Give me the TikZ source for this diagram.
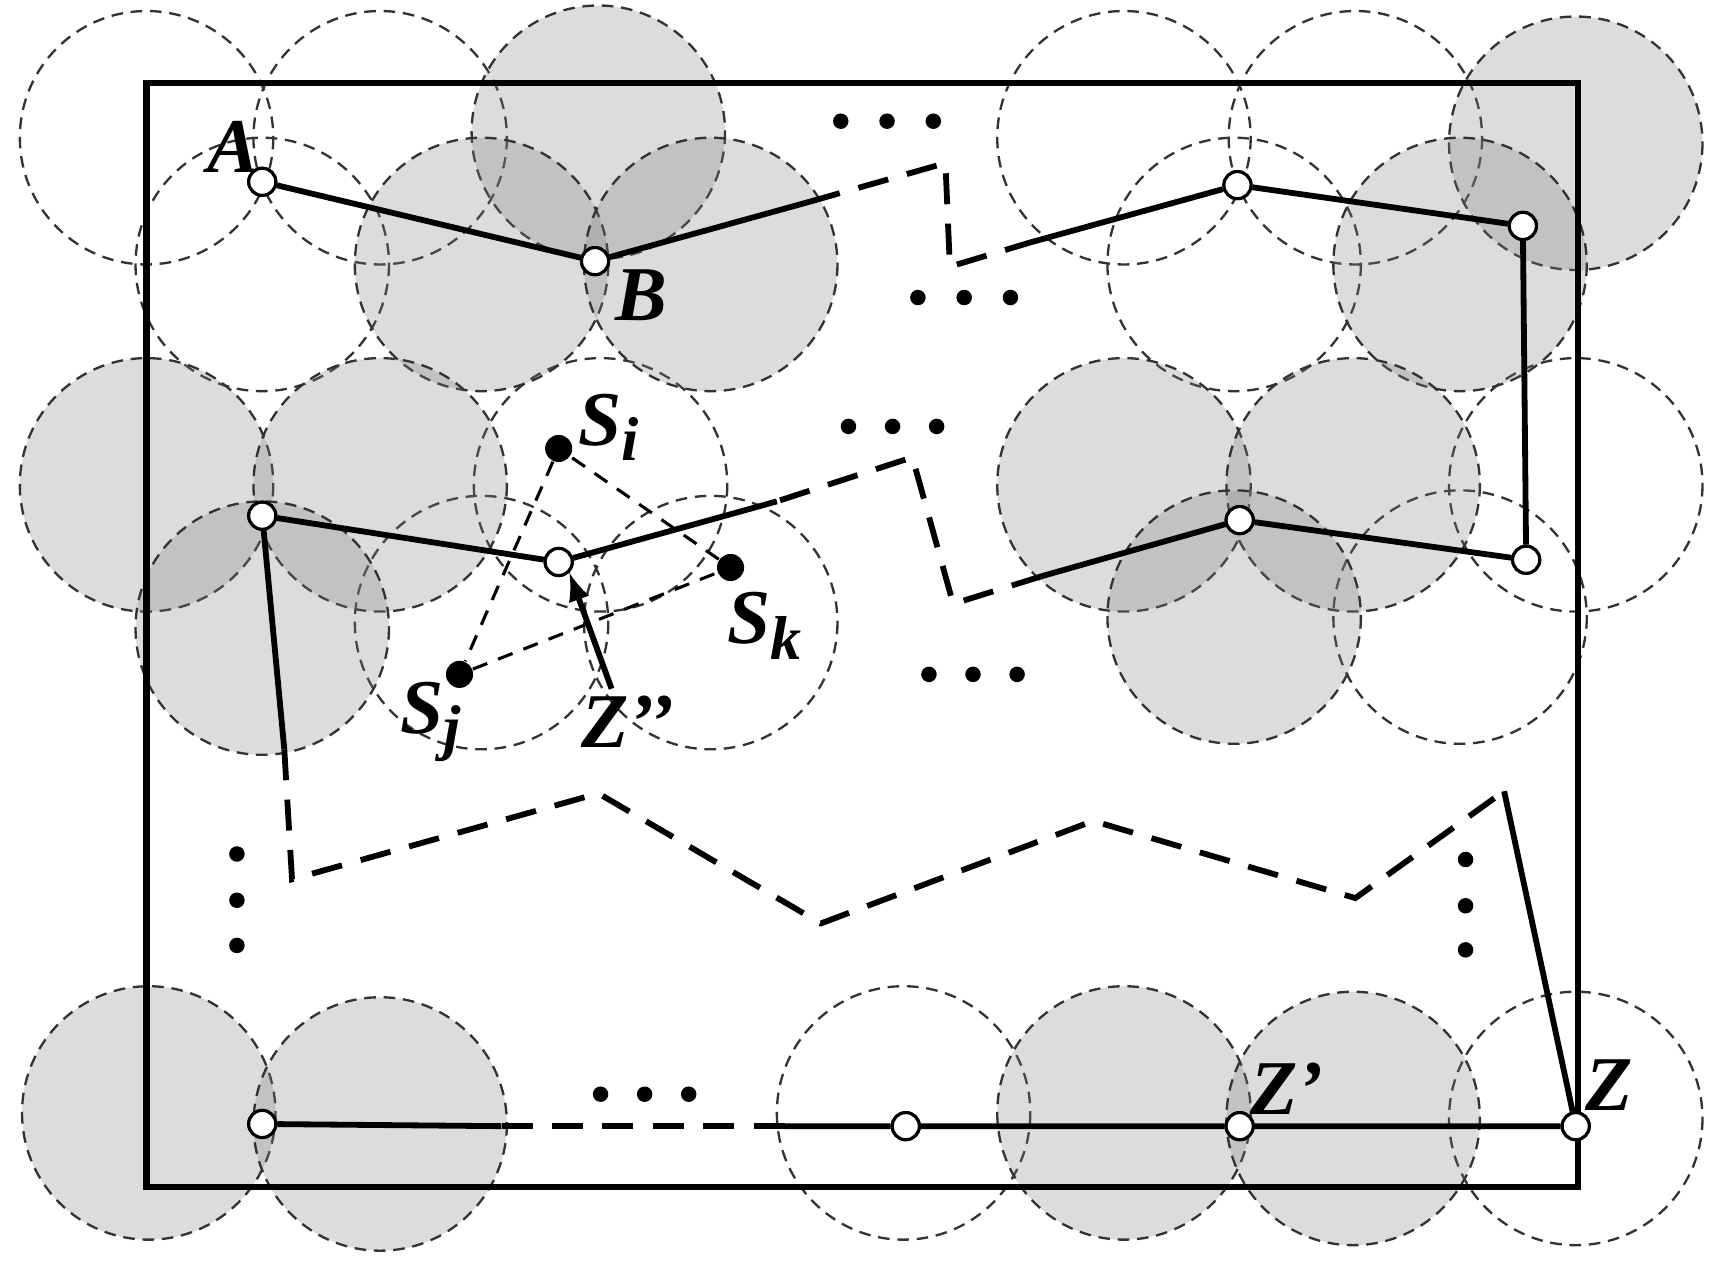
\documentclass[tikz,border=0pt]{standalone}
\usepackage{fontspec}
\setmainfont{Liberation Serif}
\begin{document}
\begin{tikzpicture}[x=0.01cm,y=-0.01cm,
 sc/.style={draw=black!80,dashed,line width=0.6pt,dash pattern=on 3pt off 2pt},
 sh/.style={sc,fill=gray,fill opacity=0.28},
 pth/.style={line width=1.5pt},
 dpth/.style={line width=1.5pt,dash pattern=on 8pt off 5pt},
 op/.style={circle,draw,fill=white,inner sep=0pt,minimum size=7pt,line width=0.8pt},
 bp/.style={circle,fill=black,inner sep=0pt,minimum size=7pt},
 lb/.style={font=\fontsize{20}{22}\selectfont\bfseries\itshape},
 dt/.style={circle,fill=black,inner sep=0pt,minimum size=4pt}]
\useasboundingbox (0,0) rectangle (1560,1152);
\foreach \x/\y in {133/125,345/125,238/240,545/440,437/565,645/565,1020/125,1230/125,1120/240,1430/440,1325/560,820/1010,1430/1015}
  \draw[sc] (\x,\y) circle (115);
\foreach \x/\y in {543/120,437/240,645/240,133/440,345/440,238/570,1430/130,1325/240,1020/440,1228/440,1120/560,135/1010,345/1020,1020/1010,1228/1015}
  \draw[sh] (\x,\y) circle (115);
\draw[line width=1.6pt] (133,75) rectangle (1432,1077);
% points
\node[op] (A) at (238,165) {};
\node[op] (B) at (540,237) {};
\node[op] (C) at (1123,168) {};
\node[op] (D) at (1382,205) {};
\node[op] (E) at (1385,508) {};
\node[op] (F) at (1125,472) {};
\node[op] (G) at (507,510) {};
\node[op] (H) at (238,468) {};
\node[op] (L) at (238,1020) {};
\node[op] (M) at (822,1022) {};
\node[op] (Zp) at (1125,1022) {};
\node[op] (Z) at (1430,1022) {};
\foreach \n/\x/\y in {c1/735/183,c2/858/148,c3/862/242,c4/935/220,c5/945/523,c6/865/548,c7/828/415,c8/705/455,c9/258/680,c10/265/798,c11/543/720,c12/745/838,c13/992/745,c14/1230/815,c15/1365/718,c16/712/1022,c17/455/1022}
  \coordinate (\n) at (\x,\y);
\draw[pth] (A)--(B)--(c1);
\draw[dpth] (c1)--(c2)--(c3)--(c4);
\draw[pth] (c4)--(C)--(D)--(E)--(F)--(c5);
\draw[dpth] (c5)--(c6)--(c7)--(c8);
\draw[pth] (c8)--(G)--(H)--(c9);
\draw[dpth] (c9)--(c10)--(c11)--(c12)--(c13)--(c14)--(c15);
\draw[pth] (c15)--(Z)--(Zp)--(M)--(c16);
\draw[dpth] (c16)--(c17);
\draw[pth] (c17)--(L);
\foreach \n in {A,B,C,D,E,F,G,H,L,M,Zp,Z} \node[op] at (\n) {};
% S triangle
\node[bp] (Si) at (507,407) {};
\node[bp] (Sj) at (417,612) {};
\node[bp] (Sk) at (663,515) {};
\draw[line width=0.8pt,dash pattern=on 4pt off 3pt] (Si)--(Sj)--(Sk)--(Si);
\coordinate (zt) at (555,625);
\draw[line width=1.5pt,-latex] (zt)--(G.south east);
% dots
\foreach \x/\y in {763/110,805/110,847/110,833/270,875/270,917/270,770/387,810/387,850/387,843/612,883/612,923/612,545/993,585/993,625/993,215/775,215/817,215/858,1330/780,1330/822,1330/862}
  \node[dt] at (\x,\y) {};
% labels
\node[lb] at (212,133) {A};
\node[lb] at (582,268) {B};
\node[lb] at (553,388) {S\textsubscript{\fontsize{16}{16}\selectfont i}};
\node[lb] at (392,655) {S\textsubscript{\fontsize{16}{16}\selectfont j}};
\node[lb] at (695,568) {S\textsubscript{\fontsize{16}{16}\selectfont k}};
\node[lb] at (570,655) {Z’’};
\node[lb] at (1168,988) {Z’};
\node[lb] at (1460,985) {Z};
\end{tikzpicture}
\end{document}
